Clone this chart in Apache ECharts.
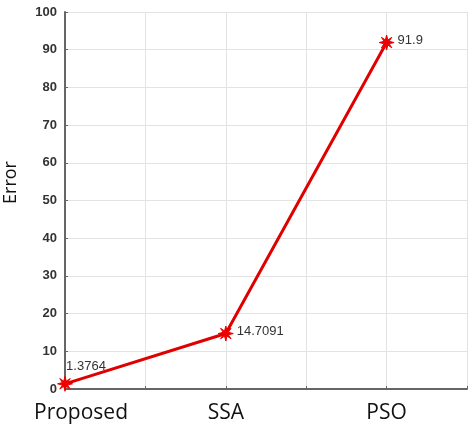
<!DOCTYPE html>
<html>
<head>
<meta charset="utf-8">
<script src="https://cdn.jsdelivr.net/npm/echarts@6/dist/echarts.min.js"></script>
<style>
  html, body { margin: 0; padding: 0; background: #fff; }
  #chart { width: 474px; height: 426px; }
</style>
</head>
<body>
<div id="chart"></div>
<script>
// 误差折线图
var categories = ["Proposed", "SSA", "PSO"];
var positions = [1, 2, 3];
var errorValues = [1.3764, 14.7091, 91.9];
var valueLabels = ["1.3764", "14.7091", "91.9"];

var chart = echarts.init(document.getElementById("chart"));

// 星号标记
var starPath = "path://M5,0 L6,4 L10,5 L6,6 L5,10 L4,6 L0,5 L4,4 Z M1.5,1.5 L5.7,4.3 L8.5,8.5 L4.3,5.7 Z M8.5,1.5 L5.7,5.7 L1.5,8.5 L4.3,4.3 Z";

var points = positions.map(function (x, i) {
  return {
    value: [x, errorValues[i]],
    label: i === 0
      ? { position: "top", offset: [21, 2] }
      : { position: "right", offset: [-2, -2] }
  };
});

chart.setOption({
  animation: false,
  grid: { left: 65, right: 7, top: 12, bottom: 37, containLabel: false, outerBoundsMode: "none" },
  xAxis: {
    type: "value",
    min: 1,
    max: 3.5,
    interval: 0.5,
    axisLine: { lineStyle: { color: "#666", width: 2 } },
    axisTick: { inside: true, length: 3, lineStyle: { color: "#666" } },
    splitLine: { show: true, lineStyle: { color: "#e3e3e3", width: 1 } },
    axisLabel: {
      margin: 14,
      color: "#111",
      fontFamily: "Open Sans",
      fontSize: 21,
      formatter: function (v) {
        var idx = positions.indexOf(v);
        if (idx < 0) return "";
        return idx === 0 ? "{p|" + categories[idx] + "}" : categories[idx];
      },
      rich: {
        p: { fontFamily: "Open Sans", fontSize: 21, color: "#111", padding: [0, 0, 0, 32] }
      }
    }
  },
  yAxis: {
    type: "value",
    min: 0,
    max: 100,
    interval: 10,
    name: "Error",
    nameLocation: "middle",
    nameGap: 45,
    nameTextStyle: { fontFamily: "Open Sans", fontSize: 18, color: "#111", padding: [0, 0, 0, 36] },
    axisLine: { show: true, lineStyle: { color: "#666", width: 2 } },
    axisTick: { show: true, inside: true, length: 3, lineStyle: { color: "#666" } },
    splitLine: { show: true, lineStyle: { color: "#e3e3e3", width: 1 } },
    axisLabel: {
      margin: 8,
      color: "#333",
      fontFamily: "Liberation Sans",
      fontWeight: "bold",
      fontSize: 13
    }
  },
  series: [{
    type: "line",
    data: points,
    symbol: starPath,
    symbolSize: 15,
    lineStyle: { color: "#e00000", width: 3 },
    itemStyle: { color: "#ee0000", borderColor: "#ee0000", borderWidth: 1 },
    label: {
      show: true,
      color: "#333",
      fontFamily: "Liberation Sans",
      fontSize: 13,
      formatter: function (p) { return valueLabels[p.dataIndex]; }
    }
  }]
});
</script>
</body>
</html>
